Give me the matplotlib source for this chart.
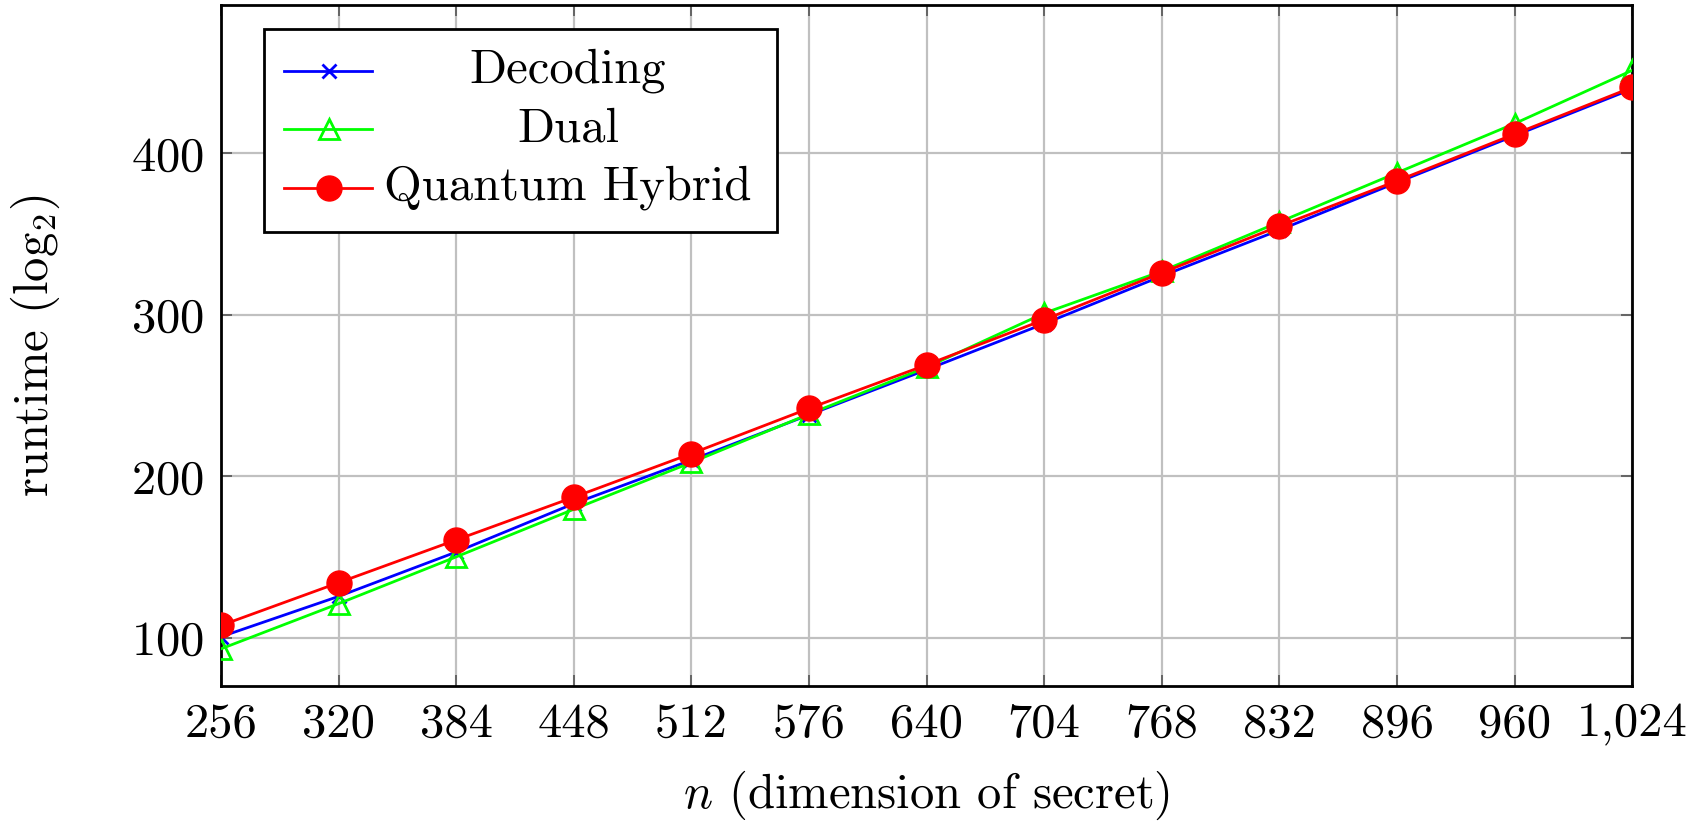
import matplotlib
matplotlib.use("Agg")
import matplotlib.pyplot as plt
from matplotlib.patches import Rectangle
from matplotlib.lines import Line2D

plt.rcParams['font.family'] = 'serif'
plt.rcParams['font.serif'] = ['cmr10', 'DejaVu Serif']
plt.rcParams['mathtext.fontset'] = 'cm'
plt.rcParams['axes.formatter.use_mathtext'] = True

# dimension of secret
n = [256, 320, 384, 448, 512, 576, 640, 704, 768, 832, 896, 960, 1024]
n_labels = ['{:,}'.format(v) for v in n]

# runtime (log2)
decoding = [100.5, 125.5, 153, 183, 210, 238, 266, 294.5, 324, 352.5, 382, 411, 440]
dual = [93, 121, 150, 179.5, 208.5, 238.5, 267.5, 301, 327, 357.5, 388, 418.5, 451.5]
quantum = [107.5, 134, 160.5, 187, 214, 242, 269, 297, 326, 355, 383, 412, 441]

y_ticks = [100, 200, 300, 400]

fs = 35

fig = plt.figure(figsize=(17.02, 8.27), dpi=100)
ax = fig.add_axes([0.1298, 0.1705, 0.8292, 0.8235])

ax.plot(n, decoding, color='#0000ff', lw=2, marker='x', ms=10, mew=2, zorder=3)
ax.plot(n, dual, color='#00ff00', lw=2, marker='^', ms=14, mfc='none', mew=2, zorder=4)
ax.plot(n, quantum, color='#ff0000', lw=2, marker='o', ms=18, zorder=5)

ax.set_xlim(256, 1024)
ax.set_ylim(70, 492)
ax.set_xticks(n)
ax.set_xticklabels(n_labels)
ax.set_yticks(y_ticks)
ax.grid(True, color='#c0c0c0', lw=1.6)
ax.set_axisbelow(True)
ax.tick_params(direction='in', top=True, right=True, length=8, width=1.2,
               color='#555555', labelsize=fs, pad=12)
for s in ax.spines.values():
    s.set_linewidth(2)

ax.set_xlabel('$n$ (dimension of secret)', fontsize=fs, labelpad=16)
ax.set_ylabel('runtime (log$_2$)', fontsize=fs, labelpad=50)

# legend drawn by hand so the labels sit centred like pgfplots
box = Rectangle((0.0305, 0.6667), 0.3635, 0.2981, transform=ax.transAxes,
                facecolor='white', edgecolor='black', lw=2, zorder=10)
ax.add_patch(box)
entries = [
    ('Decoding', dict(color='#0000ff', marker='x', ms=10, mew=2)),
    ('Dual', dict(color='#00ff00', marker='^', ms=14, mfc='none', mew=2)),
    ('Quantum Hybrid', dict(color='#ff0000', marker='o', ms=18)),
]
rows = [0.9037, 0.818, 0.7313]
for (label, style), yy in zip(entries, rows):
    ax.add_line(Line2D([0.0446, 0.107], [yy, yy], transform=ax.transAxes,
                       lw=2, zorder=11, color=style['color']))
    ax.add_line(Line2D([0.0766], [yy], transform=ax.transAxes, lw=0, zorder=12, **style))
    ax.text(0.246, yy, label, transform=ax.transAxes, ha='center', va='center',
            fontsize=fs, zorder=12)

fig.savefig('out.png', dpi=100)
